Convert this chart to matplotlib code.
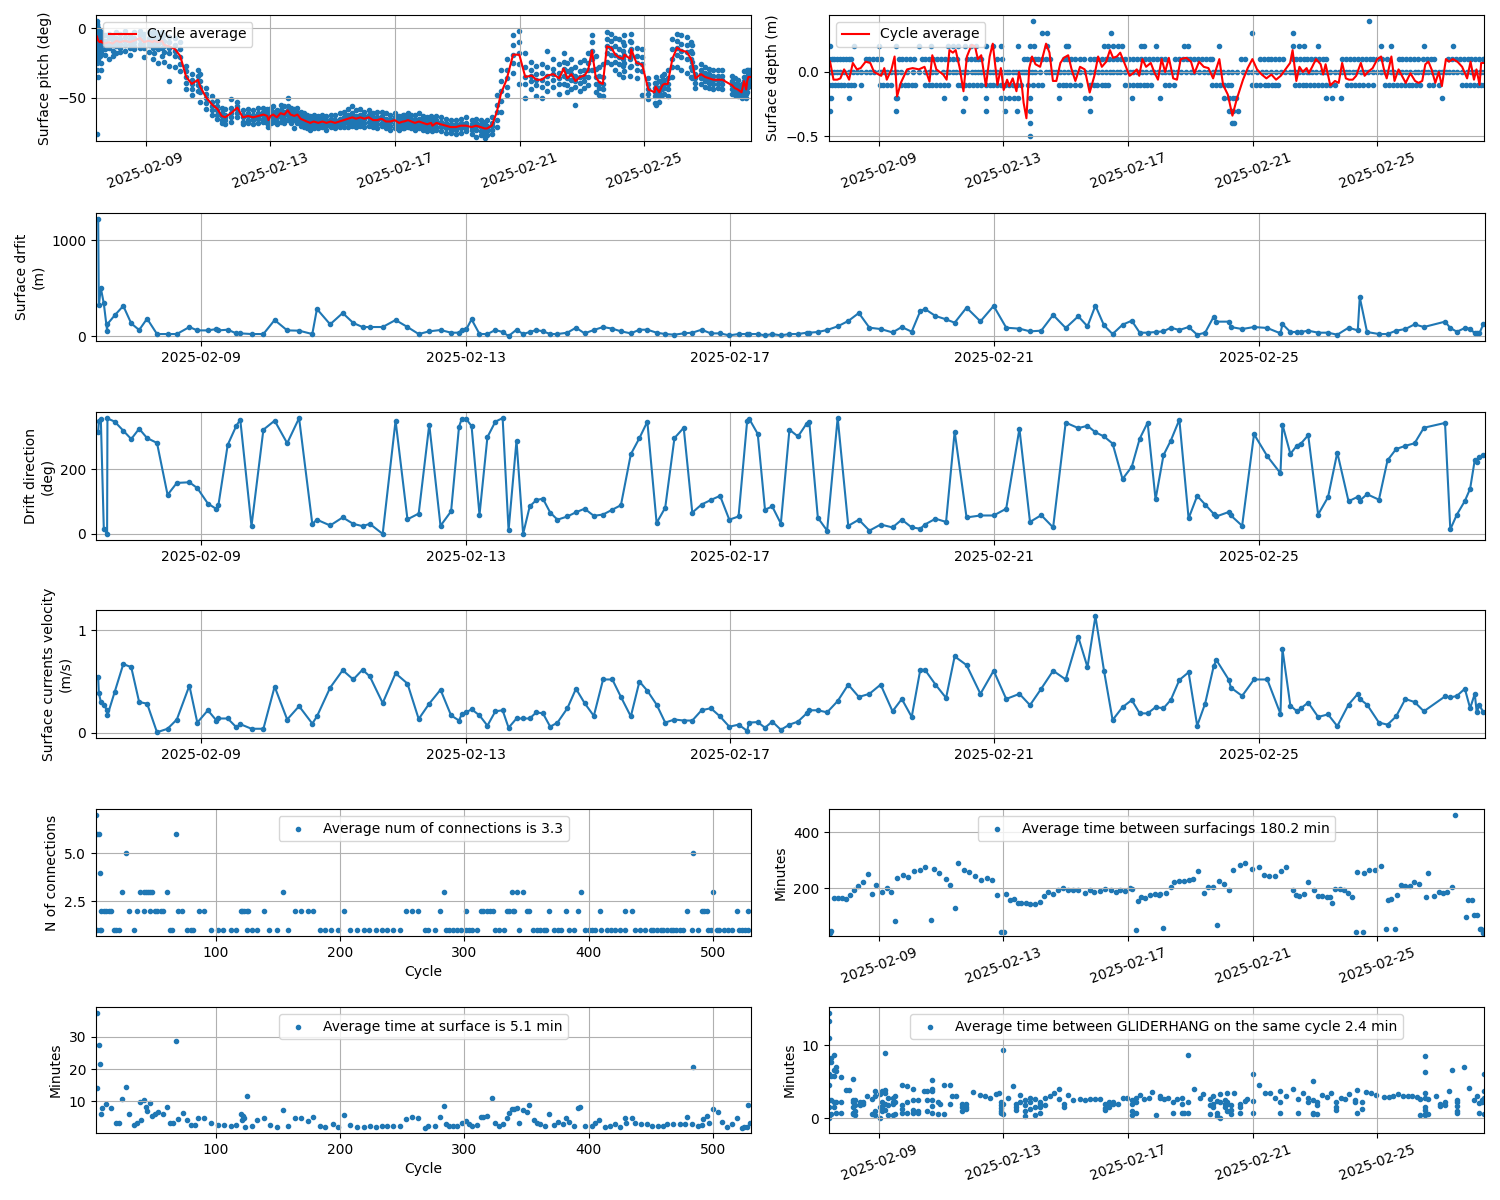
import numpy as np
import pandas as pd
import matplotlib
matplotlib.use("Agg")
import matplotlib.pyplot as plt
import matplotlib.dates as mdates

# ---------------- data (time values are fractional day-of-February 2025) ----------------
surf_days = [
    7.44, 7.45, 7.48, 7.525, 7.575, 7.58, 7.69, 7.82, 7.94, 8.06,
    8.18, 8.33, 8.49, 8.63, 8.82, 8.94, 9.10, 9.23, 9.26, 9.40,
    9.53, 9.59, 9.76, 9.94, 10.11, 10.30, 10.48, 10.68, 10.75, 10.95,
    11.14, 11.30, 11.44, 11.55, 11.745, 11.94, 12.12, 12.29, 12.45, 12.62,
    12.78, 12.90, 12.94, 13.01, 13.09, 13.21, 13.33, 13.45, 13.56, 13.65,
    13.77, 13.87, 13.97, 14.07, 14.17, 14.28, 14.39, 14.54, 14.67, 14.80,
    14.94, 15.08, 15.22, 15.35, 15.50, 15.63, 15.75, 15.89, 16.02, 16.16,
    16.30, 16.43, 16.57, 16.71, 16.85, 16.99, 17.13, 17.26, 17.29, 17.42,
    17.53, 17.64, 17.77, 17.90, 18.03, 18.16, 18.20, 18.33, 18.47, 18.63,
    18.79, 18.95, 19.11, 19.28, 19.46, 19.60, 19.75, 19.88, 19.95, 20.11,
    20.27, 20.40, 20.58, 20.79, 20.99, 21.18, 21.38, 21.54, 21.71, 21.89,
    22.08, 22.27, 22.41, 22.53, 22.66, 22.79, 22.94, 23.08, 23.20, 23.32,
    23.44, 23.56, 23.67, 23.80, 23.94, 24.07, 24.19, 24.32, 24.36, 24.55,
    24.58, 24.75, 24.93, 25.13, 25.33, 25.36, 25.48, 25.58, 25.64, 25.75,
    25.90, 26.05, 26.19, 26.36, 26.50, 26.53, 26.64, 26.82, 26.95, 27.08,
    27.22, 27.36, 27.50, 27.82, 27.90, 28.00, 28.12, 28.20, 28.27, 28.30,
    28.34, 28.40]

drift_m = [
    1220, 320, 500, 340, 56, 125, 216, 314, 132, 63,
    181, 21, 21, 21, 94, 59, 59, 73, 59, 66,
    28, 28, 21, 21, 167, 59, 56, 21, 282, 122,
    240, 136, 94, 94, 94, 167, 94, 21, 49, 63,
    35, 35, 66, 70, 174, 21, 21, 63, 42, 0,
    66, 21, 42, 63, 49, 21, 21, 35, 87, 28,
    63, 94, 77, 49, 28, 66, 66, 35, 21, 14,
    28, 35, 66, 28, 28, 7, 21, 21, 21, 21,
    7, 21, 7, 21, 21, 35, 35, 42, 63, 101,
    157, 240, 87, 73, 38, 94, 45, 261, 282, 209,
    174, 139, 296, 153, 314, 87, 77, 49, 56, 220,
    84, 206, 101, 317, 111, 21, 118, 160, 35, 35,
    42, 49, 87, 63, 94, 14, 35, 202, 150, 150,
    94, 73, 94, 84, 28, 125, 42, 42, 42, 56,
    35, 35, 14, 87, 59, 404, 42, 21, 21, 56,
    73, 122, 94, 150, 84, 45, 84, 77, 28, 28,
    28, 125]

drift_dir = [
    316, 349, 356, 16, 0, 358, 348, 320, 294, 326,
    297, 282, 121, 158, 160, 142, 94, 77, 90, 276,
    335, 354, 24, 323, 351, 281, 359, 31, 44, 26,
    51, 31, 24, 31, 0, 351, 45, 63, 339, 25,
    70, 332, 356, 356, 334, 59, 300, 348, 359, 11,
    289, 0, 85, 105, 109, 66, 44, 54, 67, 78,
    56, 60, 75, 89, 247, 297, 348, 34, 81, 297,
    329, 66, 91, 105, 118, 44, 54, 350, 357, 310,
    75, 85, 32, 323, 302, 342, 348, 50, 10, 360,
    25, 44, 10, 29, 20, 44, 20, 16, 29, 47,
    37, 317, 51, 57, 57, 78, 326, 37, 58, 20,
    345, 328, 335, 315, 302, 280, 170, 208, 295, 345,
    107, 244, 289, 354, 48, 118, 91, 62, 54, 68,
    57, 25, 309, 241, 188, 339, 248, 274, 280, 306,
    60, 114, 252, 101, 115, 103, 123, 106, 228, 263,
    273, 281, 329, 344, 14, 60, 102, 140, 229, 224,
    237, 245]

current_vel = [
    0.54, 0.39, 0.30, 0.275, 0.22, 0.17, 0.40, 0.67, 0.64, 0.30,
    0.285, 0.006, 0.04, 0.13, 0.46, 0.10, 0.22, 0.12, 0.14, 0.14,
    0.055, 0.085, 0.04, 0.04, 0.45, 0.13, 0.26, 0.09, 0.16, 0.44,
    0.61, 0.52, 0.615, 0.55, 0.29, 0.58, 0.48, 0.135, 0.285, 0.42,
    0.17, 0.12, 0.18, 0.20, 0.23, 0.17, 0.07, 0.21, 0.22, 0.05,
    0.14, 0.14, 0.14, 0.20, 0.19, 0.06, 0.10, 0.24, 0.43, 0.29,
    0.165, 0.52, 0.52, 0.35, 0.16, 0.50, 0.41, 0.275, 0.10, 0.13,
    0.12, 0.12, 0.22, 0.24, 0.16, 0.06, 0.08, 0.02, 0.10, 0.105,
    0.05, 0.11, 0.03, 0.08, 0.11, 0.19, 0.22, 0.22, 0.20, 0.31,
    0.47, 0.35, 0.38, 0.47, 0.21, 0.33, 0.155, 0.615, 0.615, 0.47,
    0.34, 0.745, 0.66, 0.38, 0.605, 0.33, 0.38, 0.27, 0.43, 0.605,
    0.52, 0.935, 0.64, 1.136, 0.605, 0.125, 0.25, 0.32, 0.19, 0.19,
    0.25, 0.24, 0.32, 0.515, 0.59, 0.07, 0.285, 0.65, 0.71, 0.515,
    0.44, 0.36, 0.52, 0.52, 0.185, 0.815, 0.265, 0.21, 0.24, 0.295,
    0.155, 0.18, 0.065, 0.275, 0.38, 0.33, 0.275, 0.10, 0.08, 0.16,
    0.33, 0.30, 0.21, 0.355, 0.345, 0.36, 0.43, 0.24, 0.38, 0.20,
    0.27, 0.20]

pitch_avg = [
    -6, -7, -9, -10, -9, -10, -11, -10, -11, -9,
    -10, -9, -10, -9, -7, -10, -9, -10, -9, -10,
    -9, -12, -13, -15, -20, -35, -40, -37, -42, -50,
    -55, -58, -63, -64, -61, -57, -64, -63, -64, -63,
    -62, -63, -66, -63, -62, -64, -61, -62, -59, -62,
    -63, -62, -65, -66, -67, -68, -67, -68, -67, -68,
    -67, -68, -67, -66, -65, -64, -65, -64, -65, -64,
    -66, -66, -65, -67, -67, -66, -68, -67, -67, -66,
    -67, -68, -67, -68, -69, -68, -70, -68, -69, -70,
    -71, -71, -70, -70, -71, -70, -71, -72, -72, -70,
    -60, -47, -37, -19, -19, -35, -34, -37, -37, -34,
    -33, -36, -29, -36, -33, -38, -35, -34, -30, -16,
    -35, -39, -40, -13, -14, -19, -21, -22, -19, -22,
    -15, -25, -26, -44, -46, -42, -46, -41, -40, -40,
    -22, -14, -16, -17, -22, -24, -36, -33, -35, -36,
    -37, -37, -37, -41, -43, -44, -46, -38, -44, -38,
    -35, -35]

pitch_samples = [
    [5, 2, -2, -5, -9, -14, -20, -76], [3, -1, -6, -10, -17, -25, -30], [0, -4, -9, -13, -22, -35],
    [-2, -6, -10, -14, -20], [-3, -7, -11, -16, -25], [-4, -8, -12, -18, -30],
    [-5, -9, -12, -15, -19], [-4, -7, -11, -14, -22], [-6, -9, -12, -16, -20], [-3, -7, -10, -13, -18],
    [-4, -8, -11, -14, -17], [-2, -6, -9, -12, -16], [-5, -8, -11, -14, -19], [-3, -7, -10, -13, -15],
    [-2, -5, -8, -11, -14], [-4, -8, -11, -14, -21], [-3, -7, -10, -12, -17], [-5, -8, -11, -14, -22],
    [-2, -6, -9, -13, -18], [-4, -8, -11, -15, -25],
    [-3, -7, -10, -14, -20], [-5, -9, -13, -17, -24], [-6, -10, -14, -18, -27, -38], [-7, -12, -16, -20, -28],
    [-10, -15, -21, -26, -31], [-27, -31, -35, -39, -44], [-33, -37, -40, -44, -48], [-30, -34, -38, -41, -45],
    [-33, -38, -42, -46, -53], [-43, -47, -50, -54, -58],
    [-49, -53, -56, -59, -62], [-52, -56, -59, -62, -65], [-57, -61, -63, -66, -68], [-58, -62, -64, -66, -69],
    [-51, -57, -61, -64, -67], [-53, -56, -58, -61, -64], [-59, -62, -64, -67, -69], [-58, -61, -63, -66, -68],
    [-59, -62, -64, -66, -69], [-57, -61, -63, -65, -68],
    [-57, -60, -62, -65, -67], [-58, -61, -63, -66, -68], [-61, -64, -66, -68, -71], [-57, -60, -63, -66, -68],
    [-56, -60, -62, -65, -67], [-59, -62, -64, -67, -69], [-55, -59, -61, -64, -67], [-56, -60, -62, -65, -68],
    [-50, -56, -59, -62, -66], [-57, -60, -62, -65, -68],
    [-58, -61, -63, -66, -72], [-57, -60, -62, -65, -68], [-60, -63, -65, -67, -70], [-61, -64, -66, -68, -71],
    [-62, -65, -67, -69, -72], [-63, -66, -68, -70, -73], [-62, -65, -67, -69, -72], [-63, -66, -68, -70, -72],
    [-62, -65, -67, -69, -71], [-63, -66, -68, -70, -73],
    [-62, -65, -67, -69, -71], [-62, -66, -68, -70, -72], [-61, -65, -67, -69, -71], [-60, -64, -66, -68, -71],
    [-58, -62, -65, -68, -71], [-56, -61, -64, -67, -70], [-59, -63, -65, -68, -71], [-58, -62, -64, -67, -70],
    [-60, -63, -65, -68, -71], [-59, -62, -64, -67, -70],
    [-61, -64, -66, -68, -71], [-60, -64, -66, -69, -72], [-60, -63, -65, -68, -70], [-61, -65, -67, -69, -72],
    [-62, -65, -67, -70, -73], [-61, -64, -66, -69, -72], [-63, -66, -68, -70, -73], [-62, -65, -67, -69, -72],
    [-62, -65, -67, -70, -72], [-61, -64, -66, -68, -71],
    [-62, -65, -67, -69, -72], [-62, -66, -68, -70, -73], [-61, -65, -67, -69, -72], [-63, -66, -68, -70, -73],
    [-64, -67, -69, -71, -74], [-63, -66, -68, -70, -72], [-65, -68, -70, -72, -74], [-63, -66, -68, -71, -73],
    [-64, -67, -69, -71, -74], [-65, -68, -70, -72, -75],
    [-66, -69, -71, -73, -75], [-66, -69, -71, -73, -76], [-65, -68, -70, -72, -75], [-64, -68, -70, -72, -74],
    [-66, -69, -71, -73, -76], [-65, -68, -70, -73, -78], [-66, -69, -71, -74, -77], [-67, -70, -72, -75, -79],
    [-66, -70, -72, -74, -77], [-64, -68, -70, -73, -76],
    [-48, -55, -60, -66, -71], [-30, -38, -45, -52, -60], [-22, -30, -36, -42, -48], [-5, -12, -19, -25, -32],
    [-2, -10, -18, -26, -40], [-18, -28, -35, -40, -50], [-24, -30, -34, -38, -44], [-27, -33, -37, -41, -49],
    [-26, -32, -37, -42, -50], [-16, -28, -34, -39, -45],
    [-22, -29, -33, -37, -42], [-26, -32, -36, -40, -47], [-18, -24, -29, -34, -40], [-25, -31, -36, -41, -46],
    [-22, -29, -33, -37, -44], [-28, -34, -38, -42, -55], [-24, -31, -35, -39, -45], [-23, -30, -34, -38, -43],
    [-18, -25, -30, -35, -41], [-5, -10, -16, -22, -30],
    [-20, -29, -35, -40, -46], [-28, -34, -39, -43, -48], [-26, -35, -40, -44, -49], [-3, -8, -13, -18, -24],
    [-4, -9, -14, -19, -26], [-7, -13, -19, -24, -30], [-8, -15, -21, -26, -33], [-10, -16, -22, -27, -35],
    [-5, -12, -19, -25, -31], [-9, -16, -22, -28, -34],
    [-4, -10, -15, -20, -27], [-14, -20, -25, -30, -36], [-15, -21, -26, -31, -48], [-36, -40, -44, -47, -51],
    [-39, -43, -46, -49, -54], [-35, -39, -42, -46, -55], [-38, -43, -46, -49, -53], [-34, -38, -41, -44, -48],
    [-33, -37, -40, -43, -47], [-30, -36, -40, -44, -49],
    [-8, -15, -22, -28, -35], [-4, -9, -14, -19, -28], [-5, -11, -16, -21, -30], [-6, -12, -17, -22, -32],
    [-10, -16, -22, -28, -35], [-12, -18, -24, -30, -36], [-28, -33, -36, -39, -43], [-26, -30, -33, -36, -40],
    [-28, -32, -35, -38, -42], [-29, -33, -36, -39, -43],
    [-30, -34, -37, -40, -44], [-30, -34, -37, -40, -43], [-30, -34, -37, -40, -44], [-34, -38, -41, -44, -47],
    [-36, -40, -43, -46, -48], [-37, -41, -44, -46, -49], [-40, -43, -46, -48, -50], [-31, -35, -38, -42, -46],
    [-36, -40, -44, -47, -50], [-30, -35, -38, -42, -46],
    [-30, -33, -35, -38, -42], [-30, -33, -35, -38, -41]]

depth_avg_days = [
    7.44, 7.48, 7.55, 7.67, 7.77, 7.89, 8.05, 8.17, 8.30, 8.42,
    8.58, 8.73, 8.85, 9.00, 9.08, 9.18, 9.26, 9.41, 9.51, 9.59,
    9.71, 9.91, 10.09, 10.29, 10.47, 10.63, 10.72, 10.85, 11.07, 11.18,
    11.27, 11.38, 11.47, 11.60, 11.72, 11.83, 11.98, 12.09, 12.18, 12.29,
    12.44, 12.56, 12.66, 12.81, 12.92, 13.01, 13.12, 13.19, 13.30, 13.42,
    13.50, 13.59, 13.65, 13.74, 13.83, 13.92, 14.03, 14.18, 14.37, 14.48,
    14.59, 14.70, 14.83, 14.94, 15.08, 15.19, 15.31, 15.46, 15.61, 15.77,
    15.92, 16.04, 16.16, 16.30, 16.42, 16.52, 16.64, 16.75, 16.90, 17.05,
    17.16, 17.28, 17.36, 17.46, 17.58, 17.73, 17.84, 17.96, 18.08, 18.19,
    18.31, 18.45, 18.57, 18.69, 18.87, 19.02, 19.13, 19.28, 19.43, 19.58,
    19.73, 19.85, 19.93, 20.05, 20.20, 20.35, 20.49, 20.69, 20.84, 20.99,
    21.14, 21.29, 21.44, 21.60, 21.75, 21.90, 22.05, 22.20, 22.28, 22.40,
    22.50, 22.61, 22.73, 22.80, 22.91, 23.03, 23.18, 23.26, 23.34, 23.49,
    23.64, 23.76, 23.87, 23.99, 24.09, 24.21, 24.32, 24.47, 24.59, 24.70,
    24.85, 25.00, 25.12, 25.23, 25.30, 25.45, 25.55, 25.68, 25.79, 25.91,
    26.06, 26.21, 26.32, 26.44, 26.54, 26.64, 26.74, 26.86, 26.97, 27.07,
    27.20, 27.30, 27.42, 27.57, 27.72, 27.88, 27.99, 28.10, 28.18, 28.28,
    28.33, 28.42]

depth_avg = [
    0.08, 0.03, -0.06, -0.06, -0.05, 0.02, -0.06, 0.07, 0.02, 0.03,
    0.08, 0.07, 0.0, -0.02, -0.03, 0.03, -0.06, 0.02, 0.12, -0.19,
    -0.085, 0.02, 0.03, 0.02, 0.04, -0.075, 0.13, 0.02, -0.02, -0.06,
    0.17, 0.15, 0.17, 0.03, -0.15, 0.12, 0.21, 0.2, 0.1, 0.13,
    -0.11, 0.12, 0.22, -0.1, 0.03, -0.14, -0.06, -0.11, -0.05, -0.15,
    0.0, -0.1, -0.24, -0.36, 0.03, 0.12, 0.06, 0.04, 0.22, 0.15,
    -0.07, -0.07, 0.07, 0.11, 0.13, 0.02, -0.07, 0.04, 0.02, -0.16,
    -0.03, 0.12, 0.04, 0.08, 0.17, 0.11, 0.12, 0.15, 0.06, -0.03,
    -0.01, 0.02, -0.03, 0.1, 0.04, 0.07, 0.0, -0.06, 0.1, 0.0,
    0.11, -0.05, -0.06, 0.1, 0.11, 0.08, -0.01, 0.08, 0.04, 0.03,
    -0.05, 0.04, 0.1, -0.1, -0.175, -0.34, -0.21, -0.06, 0.03, 0.1,
    0.02, -0.02, -0.05, -0.02, -0.06, -0.03, 0.02, 0.07, 0.17, -0.07,
    0.04, 0.0, 0.03, -0.01, 0.04, 0.1, 0.06, -0.02, 0.06, -0.105,
    -0.07, -0.085, 0.07, -0.05, -0.06, -0.06, -0.03, 0.07, -0.03, 0.0,
    0.03, 0.1, 0.12, 0.0, -0.05, 0.12, -0.07, 0.02, -0.03, -0.085,
    -0.01, -0.07, -0.085, -0.07, 0.06, 0.08, 0.02, -0.085, 0.0, -0.11,
    0.1, 0.08, 0.1, 0.08, 0.04, -0.05, 0.08, -0.06, 0.02, -0.1,
    0.07, 0.07]

depth_levels = [0.4, 0.3, 0.2, 0.1, 0.0, -0.1, -0.2, -0.3, -0.4, -0.5]
depth_level_days = [
    [13.95, 24.73],
    [14.25, 14.40, 16.45, 20.99, 22.28],
    [7.44, 8.20, 9.00, 9.56, 10.29, 10.67, 11.23, 11.38, 11.53, 11.76, 11.95, 12.13, 12.44, 12.66,
     12.94, 13.47, 13.87, 13.98, 14.40, 15.01, 15.09, 16.22, 16.37, 16.52, 16.67, 16.82, 17.43,
     17.51, 17.89, 18.79, 18.94, 19.93, 22.28, 22.50, 22.65, 23.11, 25.12, 25.45, 26.51, 27.42],
    [7.41, 7.50, 7.58, 7.66, 7.75, 7.85, 7.95, 8.05, 8.12, 8.58, 8.70, 8.82, 8.95, 9.08, 9.64, 9.75,
     9.88, 10.0, 10.12, 10.40, 10.50, 10.62, 10.75, 10.87, 11.0, 11.12, 11.25, 11.37, 11.50, 11.83,
     11.95, 12.08, 12.20, 12.28, 12.81, 12.95, 13.65, 13.76, 13.88, 14.0, 14.12, 14.25, 14.38, 14.50,
     14.93, 15.05, 15.18, 15.30, 15.45, 15.60, 15.77, 15.90, 16.02, 16.15, 16.28, 16.40, 16.52, 16.65,
     16.78, 16.90, 17.02, 17.15, 17.28, 17.43, 17.55, 17.68, 17.80, 17.93, 18.05, 18.18, 18.50, 18.62,
     18.75, 18.88, 19.0, 19.12, 19.25, 19.38, 19.50, 19.62, 19.70, 20.62, 20.75, 21.22, 21.35, 21.48,
     21.60, 21.72, 21.85, 21.97, 22.28, 22.40, 22.52, 22.64, 22.73, 22.88, 23.0, 23.12, 23.24, 23.34,
     23.87, 24.0, 24.12, 24.25, 24.38, 24.50, 24.62, 24.75, 24.85, 25.0, 25.15, 25.30, 25.68, 25.80,
     25.92, 26.05, 26.18, 26.30, 26.48, 26.60, 26.72, 26.81, 27.27, 27.40, 27.52, 27.65, 27.78, 27.90,
     28.02, 28.14, 28.26, 28.38, 28.42],
    depth_avg_days,
    [7.41, 7.50, 7.60, 7.70, 7.80, 7.90, 8.0, 8.10, 8.20, 8.42, 9.03, 9.15, 9.28, 9.41, 9.71, 9.83,
     9.95, 10.07, 10.17, 10.47, 10.60, 10.72, 10.85, 10.98, 11.10, 11.23, 11.53, 11.65, 11.78, 11.90,
     12.03, 12.15, 12.28, 12.44, 12.56, 12.68, 12.80, 12.92, 13.05, 13.18, 13.30, 13.44, 13.57, 13.80,
     13.95, 14.10, 14.25, 14.78, 14.90, 15.02, 15.15, 15.30, 15.46, 15.77, 15.90, 16.02, 16.15, 16.27,
     16.37, 16.90, 17.02, 17.15, 17.28, 17.40, 17.52, 17.62, 17.73, 18.19, 18.33, 18.49, 19.70, 19.82,
     19.95, 20.08, 20.20, 20.31, 20.99, 21.12, 21.25, 21.38, 21.50, 21.62, 21.72, 21.82, 22.35, 22.47,
     22.60, 22.72, 22.85, 22.98, 23.10, 23.22, 23.35, 23.48, 23.64, 24.02, 24.15, 24.28, 24.42, 24.55,
     24.70, 24.85, 25.23, 25.36, 25.50, 25.62, 25.75, 25.88, 26.0, 26.12, 26.24, 26.36, 26.67, 26.80,
     26.97, 27.72, 27.85, 27.98, 28.10, 28.22, 28.34, 28.42],
    [7.41, 7.47, 8.05, 9.56, 9.59, 11.10, 11.76, 12.44, 12.92, 13.01, 13.19, 13.34, 13.47, 13.87,
     14.78, 15.62, 15.77, 17.13, 18.01, 20.08, 20.23, 20.38, 20.46, 23.34, 23.56, 23.82, 27.07],
    [7.44, 9.56, 11.72, 12.44, 13.04, 13.44, 13.87, 15.77, 20.23, 20.31, 20.38, 20.53],
    [13.87, 20.35, 20.41],
    [13.87]]

conn_levels = [7, 6, 5, 4, 3, 2, 1]
conn_level_cycles = [
    [4],
    [5, 6, 68],
    [28, 484],
    [7],
    [25, 39, 42, 44, 46, 47, 49, 61, 154, 284, 338, 342, 347, 394, 500],
    [8, 10, 12, 14, 16, 30, 37, 42, 47, 51, 53, 56, 58, 70, 73, 87, 91, 120, 121, 123, 125, 126,
     139, 164, 169, 174, 178, 203, 253, 258, 263, 280, 301, 313, 315, 318, 321, 323, 334, 336, 339,
     340, 350, 352, 368, 382, 391, 409, 429, 435, 479, 491, 493, 495, 519, 528],
    [5, 7, 8, 18, 20, 22, 34, 63, 65, 77, 80, 82, 96, 102, 106, 112, 116, 125, 129, 133, 143, 149,
     158, 184, 188, 193, 198, 208, 214, 219, 223, 229, 234, 238, 243, 248, 268, 271, 276, 285, 288,
     291, 294, 297, 301, 304, 306, 310, 325, 328, 332, 344, 355, 358, 361, 364, 366, 372, 375, 378,
     384, 388, 397, 400, 403, 405, 410, 415, 418, 421, 425, 429, 437, 441, 445, 450, 452, 455, 458,
     460, 463, 466, 468, 470, 473, 476, 483, 488, 496, 498, 503, 505, 509, 512, 515, 521, 523, 526, 528]]

interval_days = [
    7.44, 7.43, 7.47, 7.56, 7.70, 7.82, 7.94, 8.08, 8.20, 8.32,
    8.50, 8.65, 8.80, 8.92, 9.10, 9.26, 9.38, 9.51, 9.59, 9.79,
    9.94, 10.12, 10.32, 10.47, 10.67, 10.77, 10.95, 11.15, 11.30, 11.45,
    11.53, 11.75, 11.90, 12.10, 12.28, 12.47, 12.62, 12.78, 12.92, 13.01,
    13.09, 13.20, 13.34, 13.47, 13.57, 13.72, 13.87, 14.03, 14.18, 14.30,
    14.43, 14.59, 14.74, 14.90, 15.09, 15.24, 15.39, 15.62, 15.77, 15.92,
    16.10, 16.27, 16.45, 16.60, 16.75, 16.90, 17.05, 17.13, 17.25, 17.31,
    17.43, 17.55, 17.70, 17.86, 17.98, 18.04, 18.11, 18.22, 18.37, 18.49,
    18.64, 18.79, 18.95, 19.10, 19.25, 19.45, 19.58, 19.73, 19.85, 19.93,
    20.08, 20.23, 20.38, 20.58, 20.76, 20.99, 21.19, 21.37, 21.52, 21.72,
    21.90, 22.08, 22.28, 22.40, 22.50, 22.65, 22.76, 22.96, 23.08, 23.23,
    23.37, 23.49, 23.56, 23.64, 23.79, 23.94, 24.06, 24.20, 24.32, 24.35,
    24.54, 24.57, 24.74, 24.92, 25.11, 25.29, 25.34, 25.45, 25.57, 25.63,
    25.75, 25.90, 26.06, 26.18, 26.33, 26.55, 26.64, 26.82, 26.97, 27.12,
    27.24, 27.38, 27.50, 27.83, 27.92, 28.03, 28.10, 28.21, 28.29, 28.33,
    28.40]
interval_min = [
    45, 39, 49, 167, 167, 167, 160, 176, 192, 208,
    224, 251, 179, 210, 186, 202, 186, 82, 236, 248,
    239, 262, 265, 274, 87, 269, 255, 232, 212, 129,
    289, 264, 257, 244, 230, 237, 229, 176, 45, 44,
    179, 158, 163, 146, 146, 149, 144, 144, 152, 174,
    185, 181, 192, 201, 192, 194, 194, 182, 193, 187,
    190, 196, 192, 185, 194, 190, 200, 199, 51, 156,
    170, 167, 176, 180, 176, 179, 57, 183, 204, 223,
    226, 226, 229, 232, 263, 182, 205, 205, 69, 225,
    215, 194, 265, 283, 289, 269, 275, 246, 243, 243,
    262, 275, 192, 176, 171, 179, 224, 194, 173, 173,
    170, 168, 146, 198, 196, 192, 182, 168, 46, 258,
    46, 254, 265, 265, 279, 54, 158, 162, 54, 175,
    212, 208, 208, 223, 215, 170, 254, 174, 186, 182,
    188, 206, 460, 99, 157, 157, 104, 104, 54, 54,
    42]

surface_cycle = [
    5, 6, 7, 5, 8, 9, 12, 16, 20, 22, 25, 28, 30, 34, 37, 39, 40, 42, 44, 45,
    47, 49, 51, 54, 58, 61, 63, 66, 68, 70, 74, 77, 80, 83, 86, 91, 96, 102, 107, 112,
    116, 120, 121, 122, 123, 124, 125, 129, 133, 139, 144, 149, 154, 158, 164, 169, 174, 178, 184, 188,
    194, 198, 203, 208, 214, 219, 224, 229, 234, 238, 243, 248, 253, 258, 263, 268, 271, 276, 280, 284,
    285, 288, 291, 294, 298, 301, 304, 306, 310, 313, 315, 318, 322, 325, 328, 331, 334, 336, 338, 340,
    342, 344, 347, 350, 352, 356, 358, 361, 365, 368, 372, 375, 379, 382, 384, 388, 391, 393, 397, 403,
    405, 408, 413, 417, 421, 425, 429, 430, 435, 437, 442, 447, 451, 456, 460, 463, 468, 473, 477, 479,
    483, 484, 488, 491, 492, 495, 497, 500, 504, 507, 511, 515, 519, 523, 525, 527, 528, 530]
surface_min = [
    37.4, 27.6, 21.7, 14.0, 6.0, 8.0, 9.1, 7.8, 3.2, 3.4, 10.7, 14.3, 6.0, 2.6, 3.2, 9.8, 4.2, 10.4, 8.4, 7.0,
    9.4, 5.5, 6.0, 6.8, 6.0, 8.2, 3.2, 3.2, 28.8, 4.6, 6.4, 4.2, 2.6, 2.6, 5.0, 5.0, 3.2, 2.6, 2.6, 2.4,
    2.7, 6.0, 4.2, 5.6, 5.0, 2.1, 11.7, 2.4, 4.1, 5.0, 2.6, 2.1, 7.3, 2.4, 5.0, 5.0, 3.8, 5.2, 2.4, 2.1,
    3.0, 2.1, 5.8, 2.6, 2.1, 2.1, 2.4, 2.1, 2.4, 2.4, 2.4, 2.4, 4.5, 5.2, 5.0, 1.7, 2.4, 2.4, 5.2, 8.6,
    2.9, 2.4, 2.4, 2.4, 3.4, 3.8, 2.9, 2.4, 2.6, 5.2, 5.2, 5.5, 11.1, 3.4, 2.4, 2.9, 5.0, 6.5, 7.6, 7.6,
    7.8, 3.2, 7.3, 6.6, 8.8, 4.2, 3.2, 2.9, 2.4, 6.0, 2.6, 3.6, 3.0, 4.8, 3.7, 2.4, 7.8, 8.2, 2.4, 2.4,
    3.4, 4.2, 2.1, 2.4, 2.9, 2.1, 5.0, 3.4, 5.0, 3.2, 2.9, 2.9, 2.4, 2.4, 2.4, 2.9, 2.9, 2.9, 2.9, 5.2,
    2.9, 20.6, 2.4, 2.6, 4.6, 5.6, 3.4, 7.5, 6.8, 3.6, 2.1, 2.9, 5.0, 1.7, 2.1, 2.1, 8.8, 3.3]

hang_days = [
    7.40, 7.48, 7.56, 7.63, 7.78, 7.94, 8.04, 8.16, 8.24, 8.39, 8.50, 8.62, 8.77, 8.89, 9.05, 9.12,
    9.20, 9.30, 9.46, 9.53, 9.76, 9.91, 10.11, 10.25, 10.44, 10.55, 10.70, 10.90, 10.98, 11.10, 11.28,
    11.36, 11.48, 11.66, 11.81, 12.04, 12.24, 12.42, 12.57, 12.76, 12.85, 12.91, 13.00, 13.15, 13.30,
    13.41, 13.53, 13.71, 13.87, 14.02, 14.17, 14.32, 14.51, 14.63, 14.78, 14.93, 15.08, 15.24, 15.46,
    15.62, 15.77, 15.95, 16.10, 16.25, 16.38, 16.53, 16.68, 16.83, 16.98, 17.14, 17.24, 17.37, 17.52,
    17.67, 17.78, 17.90, 18.02, 18.17, 18.28, 18.43, 18.58, 18.73, 18.81, 18.93, 19.11, 19.30, 19.42,
    19.62, 19.72, 19.84, 19.95, 20.10, 20.18, 20.29, 20.41, 20.60, 20.76, 20.82, 21.02, 21.21, 21.40,
    21.55, 21.73, 21.88, 22.08, 22.28, 22.46, 22.61, 22.79, 22.95, 23.07, 23.22, 23.37, 23.52, 23.68,
    23.83, 23.95, 24.10, 24.29, 24.36, 24.51, 24.62, 24.79, 24.97, 25.20, 25.38, 25.50, 25.65, 25.81,
    25.99, 26.11, 26.26, 26.38, 26.54, 26.64, 26.87, 27.02, 27.17, 27.30, 27.40, 27.56, 27.78, 27.94,
    28.09, 28.21, 28.27, 28.36, 28.41]
hang_values = [
    [14.4, 13.3, 11.0, 8.0, 7.7, 6.0, 4.5, 2.5, 1.5, 0.5, 0.0], [8.2, 7.7, 5.8, 2.5, 0.6],
    [8.7, 6.6, 5.8, 2.2, 1.5], [7.0, 6.5, 2.2, 0.7], [5.6, 2.2, 0.7], [3.9], [3.9],
    [5.4, 2.5, 2.2, 1.5, 0.8, 0.6], [2.5, 1.8, 1.0, 0.5], [2.2, 2.0, 1.8], [2.2, 2.0], [3.0],
    [2.6, 0.6], [3.7, 3.0, 1.0, 0.5], [3.3, 1.5, 0.1], [3.7, 2.3, 1.5, 1.0],
    [8.9, 3.9, 3.5, 2.0, 1.2], [2.8, 1.8, 0.5], [2.8, 2.3, 1.9, 0.4], [3.0, 2.2, 0.6],
    [4.5, 1.8, 1.3, 0.7], [4.4, 2.2, 0.7], [4.0, 2.5, 1.2, 0.8], [2.5, 1.0, 0.8], [3.8],
    [3.7, 2.5, 1.0], [5.2, 4.0, 3.8, 2.5, 1.7, 0.8], [2.2, 0.6], [1.9], [4.6, 0.6], [4.6, 2.0],
    [3.0], [3.0], [2.0, 1.5, 1.0], [2.0, 1.6, 1.3], [3.6], [3.2], [3.1], [2.8], [3.3], [3.4],
    [2.2, 1.8, 1.4, 1.0, 0.8], [9.4, 2.0, 0.6], [2.8], [4.4],
    [2.0, 1.5, 1.2], [3.2, 2.3], [2.5, 1.8, 1.0, 0.3], [2.8, 2.2, 1.3], [2.6, 1.5, 0.5],
    [2.3, 2.0, 1.5, 0.8], [2.8, 1.8], [3.0], [3.4], [4.0, 2.6], [1.9, 1.6], [3.2], [2.5], [2.6],
    [2.5], [2.7], [2.6], [2.7], [2.0, 1.4, 1.2], [2.2, 1.9, 1.5], [2.3, 2.0], [2.0], [2.8], [2.8],
    [2.5, 2.0, 1.0, 0.5], [2.8, 2.2, 0.8], [3.2], [2.7],
    [2.8], [3.6], [0.5], [3.0, 2.8], [2.7], [2.8], [2.2, 0.7], [2.6], [2.8, 2.0, 0.7], [0.7],
    [8.7, 2.2, 0.7], [4.0], [2.8], [3.3],
    [2.6, 1.8, 0.6], [3.0, 2.0, 1.5], [2.4, 0.7, 0.3], [3.3, 2.2, 0.1], [2.5, 2.0, 1.6],
    [3.4, 2.3, 2.0, 1.0], [1.8, 1.2, 0.6], [3.5], [1.9, 1.6, 0.7], [2.4], [2.6], [6.1, 2.4, 0.7],
    [4.5], [3.5],
    [3.4], [2.8], [3.7, 2.2, 0.8], [3.0], [4.0], [2.6, 0.7], [3.5], [2.8, 2.3], [5.1, 2.5, 0.8, 0.6],
    [2.2, 1.8, 0.6], [3.2], [2.9], [3.5], [2.2, 1.6, 1.2],
    [2.8], [2.7], [3.3], [2.5, 2.3], [3.9, 0.7], [2.2, 1.3], [3.6], [3.4], [3.2], [2.9], [2.9],
    [3.0], [3.3], [3.0],
    [3.1], [3.1], [2.9], [2.6, 0.5], [8.5, 6.3, 3.5, 2.8, 1.6, 1.1, 0.6, 0.4], [2.7, 0.6], [3.0],
    [2.0, 1.7], [2.2, 1.8], [3.8], [6.6], [2.5, 2.2, 1.7, 1.0, 0.7], [7.0], [4.2],
    [2.5], [3.0], [2.1, 0.8], [2.5, 2.3], [6.0, 3.8, 2.8, 0.6]]

# ---------------- helpers ----------------
BASE = pd.Timestamp("2025-01-31")


def feb(days):
    return (BASE + pd.to_timedelta(np.asarray(days, dtype=float), unit="D")).values


X0 = BASE + pd.Timedelta(days=7.407)
X1 = BASE + pd.Timedelta(days=28.425)


def date_axis(ax, rotate=False):
    ax.xaxis.set_major_locator(mdates.DayLocator(bymonthday=[1, 5, 9, 13, 17, 21, 25, 29]))
    ax.xaxis.set_major_formatter(mdates.DateFormatter("%Y-%m-%d"))
    ax.set_xlim(X0, X1)
    if rotate:
        ax.tick_params(axis="x", labelrotation=20)
    ax.grid(True)


def flatten(xs, groups):
    fx, fy = [], []
    for x, g in zip(xs, groups):
        for v in g:
            fx.append(x)
            fy.append(v)
    return fx, fy


# ---------------- figure ----------------
fig = plt.figure(figsize=(15, 12), dpi=100)
L, WH, RL, WF = 0.064, 0.4367, 0.5527, 0.926

ax_p = fig.add_axes([L, 0.8825, WH, 0.105])
ax_d = fig.add_axes([RL, 0.8825, WH, 0.105])
ax_dr = fig.add_axes([L, 0.7158, WF, 0.1067])
ax_dd = fig.add_axes([L, 0.5500, WF, 0.1067])
ax_v = fig.add_axes([L, 0.3850, WF, 0.1067])
ax_c = fig.add_axes([L, 0.2200, WH, 0.1058])
ax_i = fig.add_axes([RL, 0.2200, WH, 0.1058])
ax_s = fig.add_axes([L, 0.0558, WH, 0.1050])
ax_h = fig.add_axes([RL, 0.0558, WH, 0.1050])

# surface pitch
px, py = flatten(surf_days, pitch_samples)
ax_p.scatter(feb(px), py, marker=".", color="C0")
ax_p.plot(feb(surf_days), pitch_avg, color="red", label="Cycle average")
ax_p.set_ylabel("Surface pitch (deg)")
ax_p.set_ylim(-81, 9.5)
ax_p.set_yticks([-50, 0])
date_axis(ax_p, rotate=True)
ax_p.legend(loc="upper left")

# surface depth
dx, dy = [], []
for lvl, days in zip(depth_levels, depth_level_days):
    dx += list(days)
    dy += [lvl] * len(days)
ax_d.scatter(feb(dx), dy, marker=".", color="C0")
ax_d.plot(feb(depth_avg_days), depth_avg, color="red", label="Cycle average")
ax_d.set_ylabel("Surface depth (m)")
ax_d.set_ylim(-0.537, 0.443)
ax_d.set_yticks([-0.5, 0.0])
date_axis(ax_d, rotate=True)
ax_d.legend(loc="upper left")

# surface drift
ax_dr.plot(feb(surf_days), drift_m, ".-", color="C0")
ax_dr.set_ylabel("Surface drfit\n(m)")
ax_dr.set_ylim(-52, 1282)
ax_dr.set_yticks([0, 1000])
date_axis(ax_dr)

# drift direction
ax_dd.plot(feb(surf_days), drift_dir, ".-", color="C0")
ax_dd.set_ylabel("Drift direction\n(deg)")
ax_dd.set_ylim(-19, 378)
ax_dd.set_yticks([0, 200])
date_axis(ax_dd)

# surface currents velocity
ax_v.plot(feb(surf_days), current_vel, ".-", color="C0")
ax_v.set_ylabel("Surface currents velocity\n(m/s)")
ax_v.set_ylim(-0.05, 1.197)
ax_v.set_yticks([0, 1])
date_axis(ax_v)

# number of connections
cx, cy = flatten(conn_levels, conn_level_cycles)
ax_c.scatter(cy, cx, marker=".", color="C0", label="Average num of connections is 3.3")
ax_c.set_xlabel("Cycle")
ax_c.set_ylabel("N of connections")
ax_c.set_xlim(3.8, 530.5)
ax_c.set_ylim(0.7, 7.3)
ax_c.set_yticks([2.5, 5.0])
ax_c.set_xticks([100, 200, 300, 400, 500])
ax_c.grid(True)
ax_c.legend(loc="upper center")

# time between surfacings
ax_i.scatter(feb(interval_days), interval_min, marker=".", color="C0",
             label="Average time between surfacings 180.2 min")
ax_i.set_ylabel("Minutes")
ax_i.set_ylim(30, 482)
ax_i.set_yticks([200, 400])
date_axis(ax_i, rotate=True)
ax_i.legend(loc="upper center")

# time at surface
ax_s.scatter(surface_cycle, surface_min, marker=".", color="C0",
             label="Average time at surface is 5.1 min")
ax_s.set_xlabel("Cycle")
ax_s.set_ylabel("Minutes")
ax_s.set_xlim(3.8, 530.5)
ax_s.set_ylim(0.2, 39.2)
ax_s.set_yticks([10, 20, 30])
ax_s.set_xticks([100, 200, 300, 400, 500])
ax_s.grid(True)
ax_s.legend(loc="upper center")

# GLIDERHANG
hx, hy = flatten(hang_days, hang_values)
ax_h.scatter(feb(hx), hy, marker=".", color="C0",
             label="Average time between GLIDERHANG on the same cycle 2.4 min")
ax_h.set_ylabel("Minutes")
ax_h.set_ylim(-2.0, 15.2)
ax_h.set_yticks([0, 10])
date_axis(ax_h, rotate=True)
ax_h.legend(loc="upper center")

fig.savefig("out.png", dpi=100)
